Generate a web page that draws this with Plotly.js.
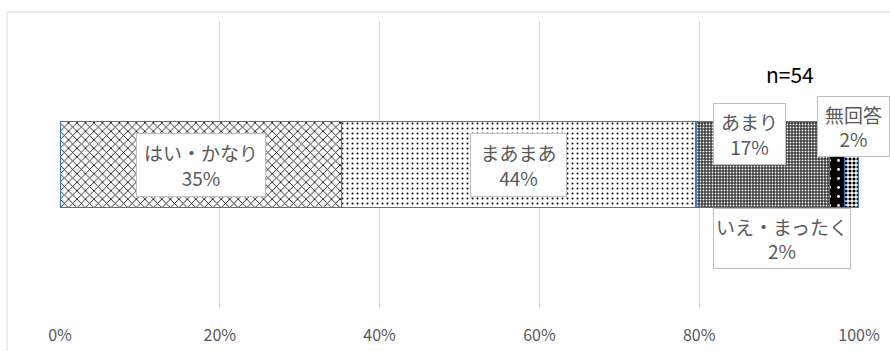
<!DOCTYPE html>
<html><head><meta charset="utf-8">
<script src="https://cdn.plot.ly/plotly-3.0.1.min.js"></script>
<style>html,body{margin:0;padding:0;background:#fff}#chart{width:890px;height:351px}</style>
</head><body><div id="chart"></div>
<script>
const category = ['n=54'];
const seriesNames = ['はい・かなり', 'まあまあ', 'あまり', 'いいえ・まったく', '無回答'];
const labelNames = ['はい・かなり', 'まあまあ', 'あまり', 'いえ・まったく', '無回答'];
const seriesValues = [35.2, 44.4, 16.7, 1.85, 1.85];
const labelPercents = ['35%', '44%', '17%', '2%', '2%'];
const tickValues = [0, 20, 40, 60, 80, 100];
const tickLabels = ['0%', '20%', '40%', '60%', '80%', '100%'];
const noteText = 'n=54';

const FONT = '"Noto Sans CJK JP", "Noto Sans", sans-serif';
const patterns = [
  {shape: 'x', fgcolor: '#000', bgcolor: '#fff', size: 6, solidity: 0.25},
  {shape: '.', fgcolor: '#000', bgcolor: '#fff', size: 5, solidity: 0.12},
  {shape: '.', fgcolor: '#fff', bgcolor: '#3a3a3a', size: 3, solidity: 0.3},
  {shape: '.', fgcolor: '#fff', bgcolor: '#000', size: 9, solidity: 0.08},
  {shape: '.', fgcolor: '#000', bgcolor: '#fff', size: 4, solidity: 0.5}
];

const traces = seriesNames.map((name, i) => ({
  type: 'bar', orientation: 'h', name: name,
  x: [seriesValues[i]], y: category,
  width: 0.3,
  marker: {color: patterns[i].bgcolor, pattern: patterns[i], line: {color: '#4472c4', width: 1.2}},
  hoverinfo: 'skip'
}));

// label placement (box sizes and offsets in pixels)
const boxes = [
  {w: 128, h: 62, dx: 0, dy: 0},
  {w: 95, h: 62, dx: 0, dy: 0},
  {w: 71, h: 60, dx: -13, dy: 31},
  {w: 136, h: 59, dx: -55, dy: -74},
  {w: 71, h: 59, dx: 2, dy: 38}
];
let cum = 0;
const annotations = seriesValues.map((v, i) => {
  const mid = cum + v / 2; cum += v;
  return {
    x: mid, y: category[0], xref: 'x', yref: 'y',
    text: labelNames[i] + '<br>' + labelPercents[i],
    showarrow: false, xshift: boxes[i].dx, yshift: boxes[i].dy,
    width: boxes[i].w, height: boxes[i].h, align: 'center', valign: 'middle',
    bgcolor: '#fff', bordercolor: '#bfbfbf', borderwidth: 1, borderpad: 0,
    font: {family: FONT, size: 19, color: '#595959'}
  };
});
annotations.push({
  x: 100 * 0.995 - 5, y: category[0], xref: 'x', yref: 'y', showarrow: false,
  text: noteText, xshift: -25, yshift: 91,
  font: {family: FONT, size: 21, color: '#000'}
});

const layout = {
  width: 890, height: 351,
  margin: {l: 60, r: 31, t: 21, b: 43},
  paper_bgcolor: '#fff', plot_bgcolor: '#fff',
  barmode: 'stack', showlegend: false,
  xaxis: {
    range: [0, 100], tickvals: tickValues, ticktext: tickLabels,
    showgrid: true, gridcolor: '#d9d9d9', gridwidth: 1, zeroline: false,
    showline: false, ticks: '', ticklabelstandoff: 16,
    tickfont: {family: FONT, size: 16, color: '#595959'}
  },
  yaxis: {
    type: 'category', range: [-0.5, 0.5], showticklabels: false,
    showgrid: false, zeroline: false, showline: false, ticks: ''
  },
  annotations: annotations,
  shapes: [{
    type: 'rect', xref: 'paper', yref: 'paper',
    x0: -0.0663, x1: 1.05, y0: -0.2, y1: 1.0314,
    line: {color: '#d9d9d9', width: 1}, fillcolor: 'rgba(0,0,0,0)', layer: 'below'
  }]
};

Plotly.newPlot('chart', traces, layout, {staticPlot: true, displayModeBar: false});
</script>
</body></html>
